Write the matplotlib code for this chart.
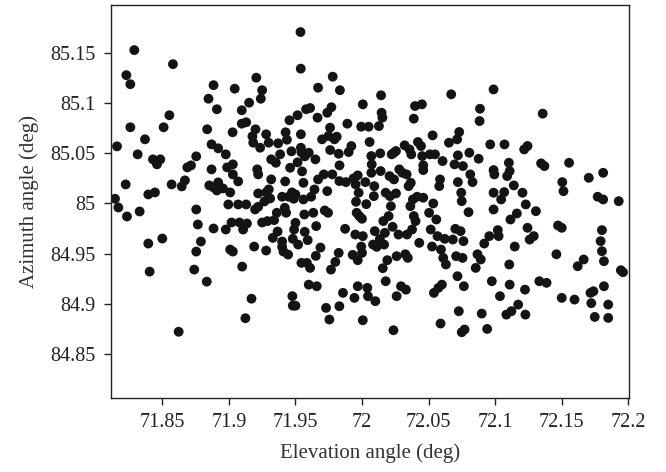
import matplotlib
matplotlib.use("Agg")
import matplotlib.pyplot as plt

# --- Data ---
elevation = [
    71.8145, 71.816, 71.817, 71.8225, 71.823, 71.8235, 71.826, 71.826, 71.829, 71.8315,
    71.833, 71.837, 71.8395, 71.8395, 71.8405, 71.843, 71.8445, 71.846, 71.8485, 71.850,
    71.851, 71.8553, 71.857, 71.858, 71.8623, 71.8646, 71.867, 71.8688, 71.8716, 71.874,
    71.8755, 71.8755, 71.8755, 71.8767, 71.879, 71.8834, 71.8837, 71.8847, 71.8853, 71.887,
    71.887, 71.8885, 71.8885, 71.8885, 71.891, 71.892, 71.892, 71.891, 71.8956, 71.8977,
    71.8977, 71.8987, 71.8996, 71.901, 71.901,
    71.9028, 71.903, 71.903, 71.903, 71.902, 71.9044, 71.907, 71.907, 71.908, 71.9097,
    71.910, 71.9097, 71.9107, 71.9124, 71.913, 71.913, 71.9136, 71.9152, 71.917, 71.9177,
    71.9183, 71.919, 71.9197, 71.920, 71.9206, 71.9213, 71.922, 71.922, 71.922, 71.9235,
    71.924, 71.925, 71.925, 71.9267, 71.928, 71.928, 71.928, 71.929, 71.9299, 71.930,
    71.931, 71.9318, 71.9318, 71.933, 71.934, 71.9353, 71.936, 71.937, 71.9366, 71.9385,
    71.940, 71.940, 71.940, 71.941, 71.942, 71.9423, 71.9426, 71.943, 71.9436, 71.9445,
    71.9449, 71.9455, 71.946, 71.947, 71.9477, 71.9474, 71.948, 71.948, 71.9487, 71.949,
    71.950, 71.950, 71.950,
    71.9516, 71.9516, 71.952, 71.9538, 71.954, 71.9541, 71.9541, 71.9545, 71.9545, 71.955,
    71.956, 71.956, 71.9567, 71.957, 71.957, 71.958, 71.9586, 71.9592, 71.960, 71.960,
    71.961, 71.961, 71.9618, 71.9634, 71.9643, 71.965, 71.9653, 71.9656, 71.966, 71.9666,
    71.967, 71.967, 71.9688, 71.970, 71.9713, 71.972, 71.973, 71.9739, 71.9739, 71.9745,
    71.9748, 71.9755, 71.976, 71.9761, 71.9767, 71.977, 71.9777, 71.978, 71.9793, 71.980,
    71.981, 71.9825, 71.9825, 71.983, 71.9831, 71.983, 71.9834, 71.9857, 71.9873, 71.9879,
    71.989, 71.990, 71.992, 71.993, 71.9936, 71.9943, 71.995, 71.9952, 71.9955, 71.996,
    71.9968, 71.9968, 71.9968, 71.9975, 71.998, 71.9994, 72.000, 72.000, 72.0006, 72.0006,
    72.0006, 71.9994,
    72.0025, 72.0032, 72.004, 72.0045, 72.005, 72.0057, 72.007, 72.007, 72.0073, 72.0083,
    72.0089, 72.0092, 72.0096, 72.010, 72.011, 72.012, 72.0127, 72.0134, 72.0137, 72.014,
    72.0143, 72.0147, 72.0153, 72.0156, 72.016, 72.0166, 72.0172, 72.0178, 72.0178, 72.019,
    72.020, 72.0207, 72.021, 72.0217, 72.0223, 72.023, 72.0236, 72.024, 72.024, 72.0255,
    72.0255, 72.026, 72.026, 72.0274, 72.028, 72.0293, 72.0303, 72.032, 72.0325, 72.033,
    72.0335, 72.0338, 72.0344, 72.035, 72.0357, 72.0363, 72.0366, 72.037, 72.0376, 72.0382,
    72.0389, 72.0389, 72.0398, 72.0402, 72.0414, 72.042, 72.043, 72.0443, 72.045, 72.0452,
    72.046, 72.046, 72.046,
    72.0504, 72.051, 72.0516, 72.0526, 72.053, 72.0535, 72.054, 72.0548, 72.0558, 72.0567,
    72.0574, 72.058, 72.0586, 72.059, 72.0593, 72.060, 72.0605, 72.061, 72.0621, 72.063,
    72.0653, 72.067, 72.0682, 72.0695, 72.0701, 72.0707, 72.0714, 72.0717, 72.072, 72.072,
    72.0727, 72.073, 72.074, 72.0745, 72.0749, 72.0749, 72.0755, 72.0758, 72.0762, 72.0765,
    72.077, 72.080, 72.0806, 72.0813, 72.083, 72.0854, 72.0867, 72.0876, 72.0883, 72.0886,
    72.0892, 72.0899, 72.0918, 72.094, 72.0956, 72.0963, 72.0975, 72.0988, 72.0988, 72.0988,
    72.0988, 72.0994,
    72.102, 72.1026, 72.1036, 72.1045, 72.1068, 72.107, 72.1084, 72.109, 72.1103, 72.1106,
    72.1109, 72.1109, 72.1115, 72.1122, 72.114, 72.1147, 72.1163, 72.1173, 72.1205, 72.1218,
    72.1224, 72.1227, 72.123, 72.1243, 72.1243, 72.1259, 72.129, 72.1306, 72.1332, 72.1345,
    72.1357, 72.137, 72.1386, 72.146, 72.1472, 72.150, 72.150, 72.1504, 72.1513,
    72.1555, 72.1596, 72.162, 72.1665, 72.1703, 72.1716, 72.1722, 72.1738, 72.1748, 72.177,
    72.1792, 72.1802, 72.1802, 72.1811, 72.1811, 72.1817, 72.1817, 72.1849, 72.1849, 72.1928,
    72.1944, 72.196,
]

azimuth = [
    85.0047, 85.057, 84.996, 85.019, 85.128, 84.987, 85.119, 85.076, 85.153, 85.049,
    84.992, 85.064, 84.960, 85.009, 84.932, 85.044, 85.011, 85.039, 85.044, 84.965,
    85.076, 85.088, 85.019, 85.139, 84.872, 85.017, 85.023, 85.036, 85.038, 84.934,
    84.994, 84.952, 85.047, 84.979, 84.962, 84.922, 85.074, 85.1045, 85.018, 85.059,
    85.034, 85.118, 84.975, 85.016, 85.094, 85.055, 85.021, 85.013, 85.015, 85.049,
    84.974, 85.036, 84.999, 84.954, 85.011,
    85.071, 84.952, 85.029, 85.039, 84.981, 85.1145, 85.022, 84.999, 84.981, 85.093,
    84.937, 85.0796, 84.974, 84.8855, 85.081, 84.999, 84.980, 85.1005, 84.905, 85.067,
    85.0606, 84.957, 84.994, 85.074, 85.1255, 85.034, 85.029, 85.010, 84.9967, 85.0556,
    85.1045, 85.113, 84.981, 85.002, 85.011, 85.069, 84.953, 84.9824, 85.0606, 85.014,
    85.005, 85.024, 85.044, 84.9657, 84.9834, 85.0406, 84.9907, 85.060, 84.972, 85.049,
    85.0067, 84.962, 84.9567, 84.952, 84.9957, 85.022, 85.071, 84.9907, 85.0636, 84.949,
    85.0067, 85.083, 85.0356, 85.052, 84.9075, 85.011, 84.898, 84.9647, 85.0047, 84.974,
    84.9807, 84.898, 85.009,
    85.088, 85.041, 84.959, 85.171, 85.1345, 85.069, 85.0556, 85.051, 84.9407, 85.032,
    85.0206, 85.004, 84.989, 85.047, 84.9717, 85.094, 84.9407, 84.9634, 84.919, 85.0506,
    85.0952, 84.9357, 85.0067, 84.9907, 85.014, 85.044, 84.9477, 84.9774, 84.9174, 85.0856,
    85.1155, 85.024, 84.956, 85.064, 85.029, 84.993, 84.8958, 85.0905, 85.0123, 84.9907,
    85.0673, 84.8842, 85.0756, 85.0533, 84.934, 85.096, 85.029, 85.1265, 85.064, 84.9417,
    85.0666, 85.0496, 84.9507, 84.8975, 85.038, 85.0223, 85.113, 84.9108, 84.9747, 85.0213,
    85.0796, 85.0513, 85.0573, 84.9487, 85.025, 84.9058, 84.969, 85.019, 85.0017, 84.9907,
    85.028, 84.9174, 84.9434, 85.0107, 84.9874, 84.957, 84.9847, 84.9507, 85.0989, 84.8835,
    84.9674, 85.0766,
    85.0213, 84.9993, 84.9158, 84.9075, 85.0766, 85.0613, 85.0473, 85.0306, 85.039, 84.959,
    85.0073, 85.0173, 84.9724, 84.9025, 84.9567, 84.960, 85.0772, 84.9647, 85.050, 85.0323,
    85.1079, 85.0905, 85.0856, 84.9354, 84.9824, 84.959, 84.9707, 85.0107, 84.9224, 84.9434,
    84.9874, 85.0273, 85.0073, 84.9973, 85.049, 84.9767, 84.8735, 85.0506, 85.024, 85.0523,
    85.010, 84.9075, 84.9474, 84.969, 85.034, 84.9174, 85.0306, 85.058, 84.9493, 84.914,
    85.029, 84.969, 84.9457, 85.0173, 85.0539, 84.9973, 85.0206, 85.049, 84.974, 85.004,
    85.0846, 84.9874, 85.0972, 84.9824, 85.0067, 85.0613, 84.9607, 85.0573, 85.0989, 85.0473,
    85.038, 85.0057, 85.0333,
    84.9907, 85.049, 84.974, 84.957, 85.0679, 85.000, 84.9108, 85.049, 84.984, 84.9674,
    84.9158, 85.0173, 85.024, 84.8802, 84.954, 84.919, 85.0423, 84.9457, 84.9647, 84.9391,
    85.0606, 85.1089, 84.964, 85.039, 84.9747, 84.9474, 85.064, 84.9274, 85.0213, 85.048,
    84.8925, 85.0713, 84.9724, 85.0107, 85.0023, 84.8715, 84.9457, 85.0373, 84.9624, 84.9174,
    84.8742, 84.9913, 85.0506, 85.029, 85.0213, 84.9357, 84.9493, 85.0446, 85.0822, 85.0945,
    84.9441, 84.8901, 84.960, 84.8748, 84.9674, 85.0589, 84.9224, 85.1138, 85.0333, 85.0107,
    84.994, 85.029,
    84.9734, 84.9674, 84.9075, 85.004, 85.0113, 85.0589, 84.8891, 85.0273, 85.0406, 84.9391,
    85.0323, 84.919, 84.984, 84.8925, 85.018, 84.957, 84.990, 84.8991, 85.0107, 85.0539,
    84.914, 84.8891, 84.999, 84.9757, 85.0573, 84.964, 84.9674, 84.9923, 84.9224, 85.040,
    85.0896, 85.0373, 84.9208, 84.9493, 84.978, 84.9757, 84.9058, 85.0213, 85.0123,
    85.0406, 84.9041, 84.9374, 84.9441, 85.0256, 84.9108, 84.9005, 84.9124, 84.8868, 85.0067,
    84.9624, 84.9734, 84.9524, 85.0306, 85.004, 84.9424, 84.9174, 84.8991, 84.8858, 85.0023,
    84.9334, 84.9314,
]

xticks = [71.85, 71.9, 71.95, 72.0, 72.05, 72.1, 72.15, 72.2]
xtick_labels = ['71.85', '71.9', '71.95', '72', '72.05', '72.1', '72.15', '72.2']
yticks = [84.85, 84.9, 84.95, 85.0, 85.05, 85.1, 85.15]
ytick_labels = ['84.85', '84.9', '84.95', '85', '85.05', '85.1', '85.15']

plt.rcParams['font.family'] = ['Liberation Serif', 'DejaVu Serif']

fig = plt.figure(figsize=(6.66, 4.72), dpi=100)
ax = fig.add_axes([0.1667, 0.157, 0.7783, 0.8324])

ax.scatter(elevation, azimuth, s=50, color='#141414', edgecolors='none')

ax.set_xlim(71.8115, 72.2008)
ax.set_ylim(84.806, 85.198)
ax.set_xticks(xticks)
ax.set_xticklabels(xtick_labels)
ax.set_yticks(yticks)
ax.set_yticklabels(ytick_labels)
ax.tick_params(direction='out', length=5, width=1, labelsize=14.5, colors='#222222', pad=6)

for side in ['left', 'right', 'top', 'bottom']:
    ax.spines[side].set_linewidth(1.0)
    ax.spines[side].set_color('#222222')

ax.set_xlabel('Elevation angle (deg)', fontsize=15, color='#333333', labelpad=8)
ax.set_ylabel('Azimuth angle (deg)', fontsize=15, color='#333333', labelpad=8)

fig.savefig('out.png', dpi=100)
